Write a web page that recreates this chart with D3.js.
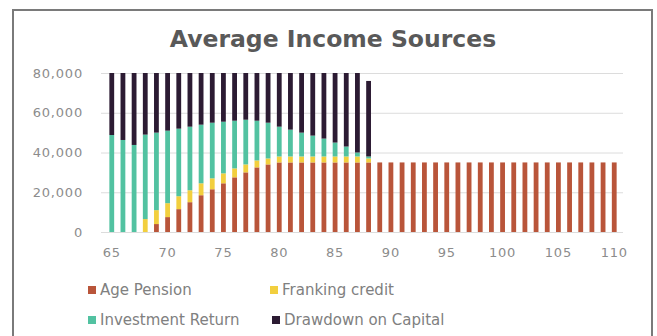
<html>
    <script src="https://d3js.org/d3.v7.min.js"></script>
    <head>
        <style>
        body {margin: 0; background: white;}
        .title {
            font-family: "DejaVu Sans", sans-serif;
            font-weight: bold;
            font-size: 23.5px;
            fill: #595959;
        }
        .tick-label {
            font-family: "DejaVu Sans", sans-serif;
            font-size: 13px;
            fill: #8c8c8c;
        }
        .legend {
            font-family: "DejaVu Sans", sans-serif;
            font-size: 15px;
            fill: #808080;
        }
        </style>
    </head>
    <body onload='init()'>
        <div id="chart"></div>

        <script>
            // ages on the x axis
            var ages = d3.range(65, 111);

            // income by source, one value per age (65 .. 110)
            var agePension = [0, 0, 0, 0, 4000, 7500, 11500, 15000, 18500, 21500,
                24500, 27500, 30000, 32500, 34000, 35000, 35000, 35000, 35000, 35000,
                35000, 35000, 35000, 35000, 35000, 35000, 35000, 35000, 35000, 35000,
                35000, 35000, 35000, 35000, 35000, 35000, 35000, 35000, 35000, 35000,
                35000, 35000, 35000, 35000, 35000, 35000];
            var franking = [0, 0, 0, 6500, 7000, 7000, 6500, 6000, 6000, 5500,
                5000, 4500, 4000, 3500, 3000, 3000, 3000, 3000, 3000, 3000,
                3000, 3000, 3000, 2000];
            var investment = [48800, 46300, 43800, 42500, 39000, 36500, 34000, 32000, 29500, 28000,
                26000, 24000, 22500, 20000, 18000, 15000, 13500, 12000, 10500, 9000,
                7000, 5000, 2000, 1000];
            var drawdown = [31200, 33700, 36200, 31000, 30000, 29000, 28000, 27000, 26000, 25000,
                24500, 24000, 23500, 24000, 25000, 27000, 28500, 30000, 31500, 33000,
                35000, 37000, 40000, 38000];

            var seriesNames = ["Age Pension", "Franking credit", "Investment Return", "Drawdown on Capital"];
            var colors = ["#b9553a", "#f2cf3e", "#52c2a1", "#2c1b33"];
            var yTicks = [0, 20000, 40000, 60000, 80000];
            var xTicks = [65, 70, 75, 80, 85, 90, 95, 100, 105, 110];

            function init(){
                var width = 657;
                var height = 336;

                var table = ages.map((a, i) => ({
                    age: a,
                    "Age Pension": agePension[i] || 0,
                    "Franking credit": franking[i] || 0,
                    "Investment Return": investment[i] || 0,
                    "Drawdown on Capital": drawdown[i] || 0
                }));
                var stacked = d3.stack().keys(seriesNames)(table);

                var x = d3.scaleBand()
                    .domain(ages)
                    .range([103, 623])
                    .padding(0.57);
                var y = d3.scaleLinear()
                    .domain([0, 80000])
                    .range([232, 73]);

                var svg = d3.select("#chart")
                    .append("svg")
                    .attr("width", width)
                    .attr("height", height);

                svg.append("path") // frame, open at the bottom
                    .attr("d", "M13,338 L13,10 L652,10 L652,338")
                    .attr("fill", "none")
                    .attr("stroke", "#7a7a7a")
                    .attr("stroke-width", 2);

                svg.append("text")
                    .attr("class", "title")
                    .attr("x", 333)
                    .attr("y", 47)
                    .attr("text-anchor", "middle")
                    .text("Average Income Sources");

                var yaxis = d3.axisLeft(y).tickValues(yTicks)
                    .tickSize(-(623 - 101)).tickFormat(d3.format(","));
                svg.append("g")
                    .attr("transform", "translate(101,0)")
                    .call(yaxis)
                    .call(g => g.select(".domain").remove())
                    .call(g => g.selectAll(".tick line").attr("stroke", "#dcdcdc"))
                    .call(g => g.selectAll(".tick text")
                        .attr("class", "tick-label")
                        .attr("x", -18)
                        .attr("letter-spacing", "0.8px"));

                var xaxis = d3.axisBottom(x).tickValues(xTicks).tickSize(0);
                svg.append("g")
                    .attr("transform", "translate(0,232)")
                    .call(xaxis)
                    .call(g => g.select(".domain").remove())
                    .call(g => g.selectAll(".tick text")
                        .attr("class", "tick-label")
                        .attr("y", 16)
                        .attr("letter-spacing", "0.8px"));

                svg.selectAll(".series")
                    .data(stacked)
                    .enter()
                    .append("g")
                    .attr("class", "series")
                    .attr("fill", (d, i) => colors[i])
                    .selectAll("rect")
                    .data(d => d)
                    .enter()
                    .append("rect")
                    .attr("x", d => x(d.data.age))
                    .attr("y", d => y(d[1]))
                    .attr("width", x.bandwidth())
                    .attr("height", d => y(d[0]) - y(d[1]));

                // legend, two rows of two
                var legendPos = [[88, 286], [270, 286], [88, 316], [272, 316]];
                var legend = svg.selectAll(".leg")
                    .data(seriesNames)
                    .enter()
                    .append("g")
                    .attr("class", "leg")
                    .attr("transform", (d, i) => "translate(" + legendPos[i][0] + "," + legendPos[i][1] + ")");
                legend.append("rect")
                    .attr("width", 8)
                    .attr("height", 8)
                    .attr("fill", (d, i) => colors[i]);
                legend.append("text")
                    .attr("class", "legend")
                    .attr("x", 12)
                    .attr("y", 9)
                    .text(d => d);
            }
        </script>
    </body>
</html>
